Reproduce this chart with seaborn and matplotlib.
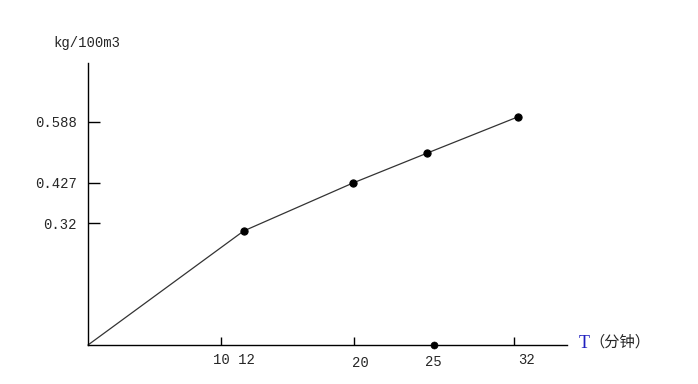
import matplotlib
matplotlib.use("Agg")
import matplotlib.pyplot as plt
import matplotlib.transforms as mtransforms
import seaborn as sns
import pandas as pd

# data
t_minutes = [0, 11.7, 19.9, 25.5, 32.3]
conc = [0.0, 0.30, 0.426, 0.505, 0.60]
lone_t = [26.0]
lone_c = [0.0]
ytick_vals = [0.32, 0.427, 0.588]
ytick_labels = ["0.32", "0.427", "0.588"]
xtick_vals = [10, 20, 32]
xlabel_pos = [(11.0, "10 12", 360), (20.5, "20", 363), (26.0, "25", 362), (33.0, "32", 360)]

sns.set_style("white")
plt.rcParams['font.family'] = ['Liberation Mono', 'Noto Sans CJK SC', 'DejaVu Sans']

W, H = 698, 384
fig = plt.figure(figsize=(W / 100, H / 100), dpi=100)
x0, x1, y0, y1 = 88, 567, 345, 63
ax = fig.add_axes([x0 / W, 1 - y0 / H, (x1 - x0) / W, (y0 - y1) / H])

df = pd.DataFrame({"t": t_minutes, "c": conc})
sns.lineplot(data=df, x="t", y="c", ax=ax, color="#333333", lw=0.9,
             marker="o", markersize=5.2, markerfacecolor="black",
             markeredgecolor="black", markevery=list(range(1, len(t_minutes))),
             clip_on=False)
sns.scatterplot(x=lone_t, y=lone_c, ax=ax, color="black", s=26,
                edgecolor="black", clip_on=False, zorder=5)

ax.set_xlim(0, (x1 - x0) / 13.3)
ax.set_ylim(0, (y0 - y1) / 380)
for s in ["top", "right"]:
    ax.spines[s].set_visible(False)
for s in ["left", "bottom"]:
    ax.spines[s].set_color("black")
    ax.spines[s].set_linewidth(1.0)

ax.set_yticks(ytick_vals)
ax.set_yticklabels(ytick_labels, fontsize=10)
ax.tick_params(axis="y", direction="in", length=8.6, width=1, color="black", pad=8, left=True)
ax.set_xticks(xtick_vals)
ax.set_xticklabels([""] * len(xtick_vals))
ax.tick_params(axis="x", direction="in", length=5.8, width=1, color="black", bottom=True)
ax.set_xlabel("")
ax.set_ylabel("")

trans = mtransforms.blended_transform_factory(ax.transData, fig.transFigure)
for xv, lab, ypix in xlabel_pos:
    ax.text(xv, 1 - ypix / H, lab, transform=trans, ha="center", va="center", fontsize=10)

fig.text(53 / W, 1 - 43 / H, "kg/100m3", ha="left", va="center", fontsize=10)
fig.text(579 / W, 1 - 344 / H, "T", ha="left", va="center", fontsize=13,
         color="#1f1fbf", family="Liberation Serif")
fig.text(589 / W, 1 - 342 / H, "（分钟）", ha="left", va="center", fontsize=11,
         family=["Noto Sans CJK SC", "DejaVu Sans"])

fig.savefig("out.png", dpi=100)
